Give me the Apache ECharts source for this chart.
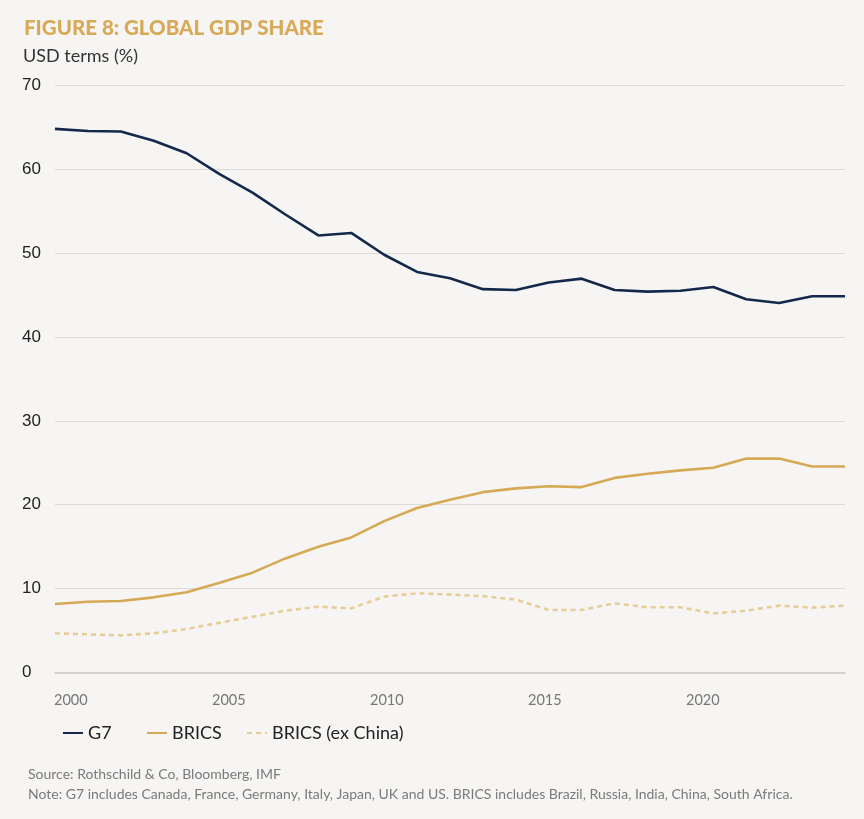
<!DOCTYPE html>
<html>
<head>
<meta charset="utf-8">
<script src="https://cdn.jsdelivr.net/npm/echarts@6/dist/echarts.min.js"></script>
<style>
html,body{margin:0;padding:0;background:#f6f5f3;}
#c{width:864px;height:819px;}
</style>
</head>
<body>
<div id="c"></div>
<script>
var years = [2000,2001,2002,2003,2004,2005,2006,2007,2008,2009,2010,2011,2012,2013,2014,2015,2016,2017,2018,2019,2020,2021,2022,2023,2024];
var g7 = [64.8,64.55,64.5,63.4,61.9,59.4,57.2,54.6,52.1,52.4,49.8,47.75,47.0,45.7,45.6,46.5,46.95,45.6,45.4,45.5,45.95,44.5,44.05,44.85,44.85];
var brics = [8.16,8.44,8.52,8.96,9.56,10.7,11.9,13.6,15.0,16.1,18.05,19.6,20.6,21.5,21.95,22.2,22.1,23.2,23.7,24.1,24.4,25.5,25.5,24.55,24.55];
var bricsExChina = [4.67,4.55,4.43,4.67,5.18,5.94,6.65,7.37,7.85,7.65,9.04,9.44,9.3,9.1,8.7,7.45,7.45,8.25,7.77,7.77,7.05,7.37,7.97,7.73,7.97];
var xTickLabels = [2000,2005,2010,2015,2020];
var yTicks = {min:0, max:70, interval:10};

function pairs(vals){ return years.map(function(y,i){ return [y, vals[i]]; }); }

var chart = echarts.init(document.getElementById('c'));
var legendText = {fontFamily:'Lato, "Noto Sans", sans-serif', fontSize:18, color:'#222'};
var legendCommon = {top:719, itemWidth:20, itemHeight:14, itemStyle:{opacity:0}, textStyle:legendText};
chart.setOption({
  backgroundColor:'#f6f5f3',
  animation:false,
  title:[
    {text:'FIGURE 8: GLOBAL GDP SHARE', left:19, top:13,
     textStyle:{fontFamily:'Lato, "Noto Sans", sans-serif', fontWeight:'900', fontSize:20.5, color:'#d6aa57'}},
    {text:'USD terms (%)', left:18, top:42,
     textStyle:{fontFamily:'Lato, "Noto Sans", sans-serif', fontWeight:'normal', fontSize:18, color:'#333'}},
    {text:'Source: Rothschild & Co, Bloomberg, IMF\nNote: G7 includes Canada, France, Germany, Italy, Japan, UK and US. BRICS includes Brazil, Russia, India, China, South Africa.',
     left:23, top:760,
     textStyle:{fontFamily:'Lato, "Noto Sans", sans-serif', fontWeight:'normal', fontSize:14, lineHeight:19.5, color:'#7a7a7a'}}
  ],
  legend:[
    Object.assign({data:['G7'], left:57}, legendCommon),
    Object.assign({data:['BRICS'], left:141}, legendCommon),
    Object.assign({data:['BRICS (ex China)'], left:241}, legendCommon)
  ],
  grid:{left:55, right:19, top:85.3, bottom:146.5},
  xAxis:[
    {type:'value', min:2000, max:2024, show:false},
    {type:'value', min:1999.5, max:2024.5, position:'bottom',
     axisLine:{show:true, lineStyle:{color:'#cfcbc8', width:1.5}},
     axisTick:{show:false},
     splitLine:{show:false},
     axisLabel:{customValues:xTickLabels, margin:20, color:'#777',
       fontFamily:'Lato, sans-serif', fontSize:14.5,
       formatter:function(v){return String(v);}}}
  ],
  yAxis:{type:'value', min:yTicks.min, max:yTicks.max, interval:yTicks.interval,
    axisLine:{show:false}, axisTick:{show:false},
    splitLine:{lineStyle:{color:'#dcdad8', width:1.2}},
    axisLabel:{align:'left', margin:33, color:'#222', padding:[5,0,0,0],
      fontFamily:'"Liberation Sans", Arial, sans-serif', fontSize:17}},
  series:[
    {name:'G7', type:'line', xAxisIndex:0, data:pairs(g7), symbol:'none',
     lineStyle:{color:'#14284b', width:2.6}, itemStyle:{color:'#14284b'}},
    {name:'BRICS', type:'line', xAxisIndex:0, data:pairs(brics), symbol:'none',
     lineStyle:{color:'#d6a955', width:2.6}, itemStyle:{color:'#d6a955'}},
    {name:'BRICS (ex China)', type:'line', xAxisIndex:0, data:pairs(bricsExChina), symbol:'none',
     lineStyle:{color:'#e8cd98', width:2.6, type:[5,4]}, itemStyle:{color:'#e8cd98'}}
  ]
});
</script>
</body>
</html>
